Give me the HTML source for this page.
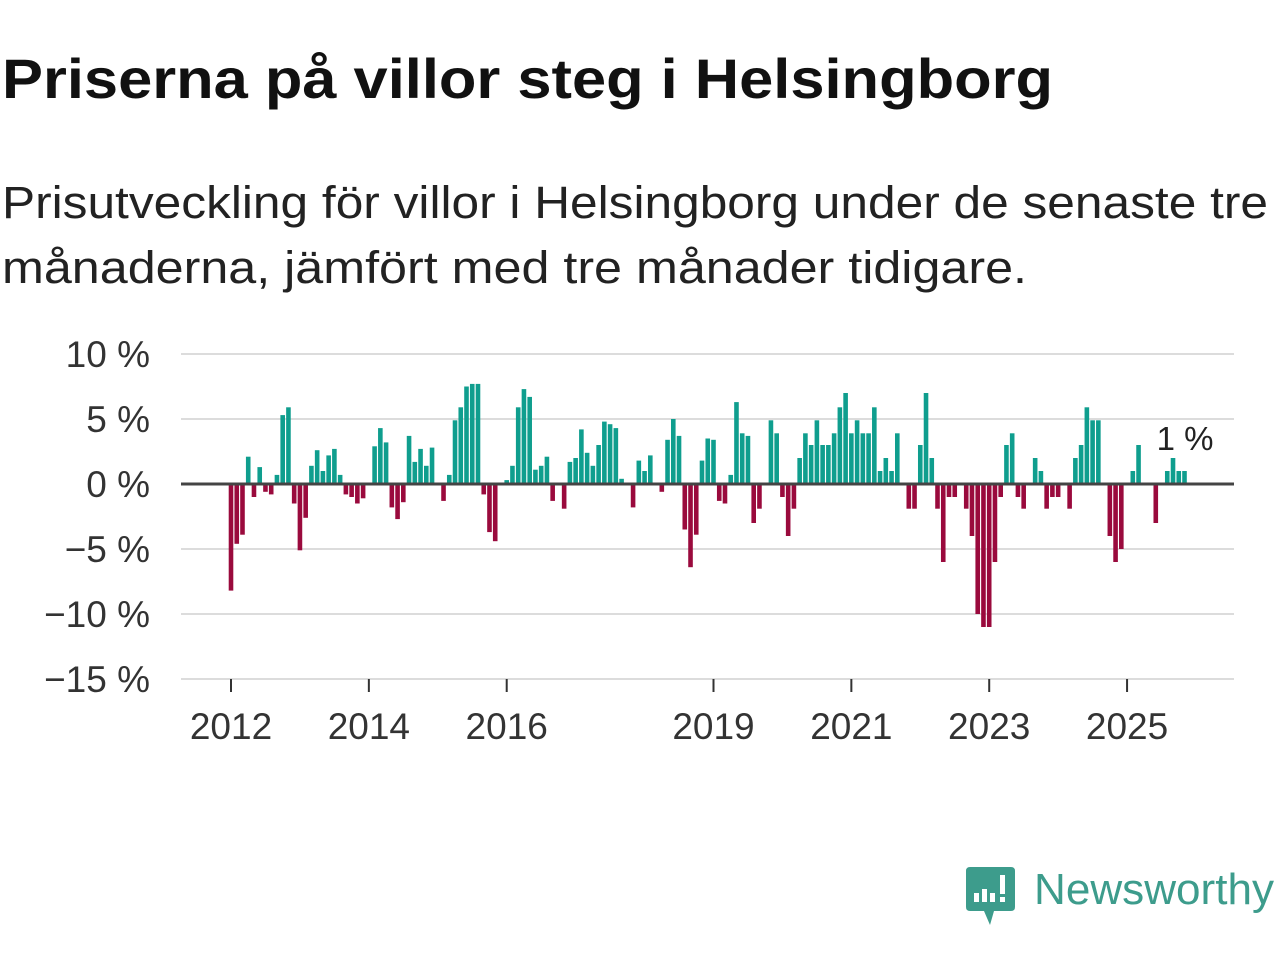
<!DOCTYPE html>
<html><head><meta charset="utf-8"><style>
html,body{margin:0;padding:0;background:#fff;width:1280px;height:960px;overflow:hidden}
svg{display:block}
text{font-family:"Liberation Sans","DejaVu Sans",sans-serif}
</style></head><body>
<svg id="chart" width="1280" height="960" viewBox="0 0 1280 960">
<text x="2" y="98" font-size="56" font-weight="bold" fill="#111" textLength="1051" lengthAdjust="spacingAndGlyphs">Priserna på villor steg i Helsingborg</text>
<text x="2" y="218" font-size="45" fill="#222" textLength="1266" lengthAdjust="spacingAndGlyphs">Prisutveckling för villor i Helsingborg under de senaste tre</text>
<text x="2" y="283" font-size="45" fill="#222" textLength="1025" lengthAdjust="spacingAndGlyphs">månaderna, jämfört med tre månader tidigare.</text>
<g id="grid"></g>
<g id="bars"></g>
<g id="axes"></g>
<text x="1185" y="450" font-size="33" fill="#222" text-anchor="middle">1 %</text>
<g>
<path d="M970 867 H1011 Q1015 867 1015 871 V907 Q1015 911 1011 911 H994 L990 925 L984 911 H970 Q966 911 966 907 V871 Q966 867 970 867 Z" fill="#3d9c8c"/>
<rect x="974" y="893" width="5" height="9" fill="#fff"/>
<rect x="982" y="889" width="5" height="13" fill="#fff"/>
<rect x="990" y="893" width="5" height="9" fill="#fff"/>
<rect x="1000" y="875" width="5" height="19" fill="#fff"/>
<rect x="1000" y="897" width="5" height="5" fill="#fff"/>
<text x="1034" y="904" font-size="44" fill="#3d9c8c" textLength="240" lengthAdjust="spacingAndGlyphs">Newsworthy</text>
</g>
</svg>
<script>
const startYear = 2012;
const values = [
-8.2,-4.6,-3.9,2.1,-1.0,1.3,-0.6,-0.8,0.7,5.3,5.9,-1.5,
-5.1,-2.6,1.4,2.6,1.0,2.2,2.7,0.7,-0.8,-1.0,-1.5,-1.1,
0,2.9,4.3,3.2,-1.8,-2.7,-1.4,3.7,1.7,2.7,1.4,2.8,
0,-1.3,0.7,4.9,5.9,7.5,7.7,7.7,-0.8,-3.7,-4.4,0,
0.3,1.4,5.9,7.3,6.7,1.1,1.4,2.1,-1.3,0,-1.9,1.7,
2.0,4.2,2.4,1.4,3.0,4.8,4.6,4.3,0.4,0,-1.8,1.8,
1.0,2.2,0,-0.6,3.4,5.0,3.7,-3.5,-6.4,-3.9,1.8,3.5,
3.4,-1.3,-1.5,0.7,6.3,3.9,3.7,-3.0,-1.9,0,4.9,3.9,
-1.0,-4.0,-1.9,2.0,3.9,3.0,4.9,3.0,3.0,3.9,5.9,7.0,
3.9,4.9,3.9,3.9,5.9,1.0,2.0,1.0,3.9,0,-1.9,-1.9,
3.0,7.0,2.0,-1.9,-6.0,-1.0,-1.0,0,-1.9,-4.0,-10,-11,
-11,-6,-1,3,3.9,-1,-1.9,0,2,1,-1.9,-1,
-1,0,-1.9,2,3,5.9,4.9,4.9,0,-4,-6,-5,
0,1,3,0,0,-3,0,1,2,1,1
];
const yTicks = [10,5,0,-5,-10,-15];
const yTickLabels = ["10 %","5 %","0 %","\u22125 %","\u221210 %","\u221215 %"];
const xTickYears = [2012,2014,2016,2019,2021,2023,2025];

const NS = "http://www.w3.org/2000/svg";
const y0 = 484, pxPerPct = 13;
const xStart = 231, pxPerMonth = 5.744;
function yScale(v){ return y0 - v*pxPerPct; }
function xScale(i){ return xStart + i*pxPerMonth; }
function mk(tag, attrs){ const e=document.createElementNS(NS,tag); for(const k in attrs) e.setAttribute(k,attrs[k]); return e; }

const grid=document.getElementById('grid'), bars=document.getElementById('bars'), axes=document.getElementById('axes');
yTicks.forEach((t,i)=>{
  if(t!==0){
    const l=mk('line',{x1:181,x2:1234,y1:yScale(t),y2:yScale(t),stroke:'#dcdcdc','stroke-width':2});
    
    
    grid.appendChild(l);
  }
  const tx=mk('text',{x:150,y:yScale(t)+13,'font-size':37,fill:'#333','text-anchor':'end'});
  tx.textContent=yTickLabels[i];
  
  
  axes.appendChild(tx);
});
const bw = pxPerMonth*0.8;
values.forEach((v,i)=>{
  if(v===0) return;
  const yv=yScale(v);
  const r=mk('rect',{x:xScale(i)-bw/2,y:Math.min(yv,y0),width:bw,height:Math.abs(yv-y0),fill:v>0?'#0f9e8e':'#9a0a3d'});
  
  
  bars.appendChild(r);
});
const zl=mk('line',{x1:181,x2:1234,y1:y0,y2:y0,stroke:'#444','stroke-width':3});


axes.appendChild(zl);
xTickYears.forEach(yr=>{
  const x=xScale((yr-startYear)*12);
  const tk=mk('line',{x1:x,x2:x,y1:679,y2:692,stroke:'#333','stroke-width':2});
  
  
  axes.appendChild(tk);
  const tx=mk('text',{x:x,y:739,'font-size':37,fill:'#333','text-anchor':'middle'});
  tx.textContent=String(yr);
  
  
  axes.appendChild(tx);
});
</script>
</body></html>
